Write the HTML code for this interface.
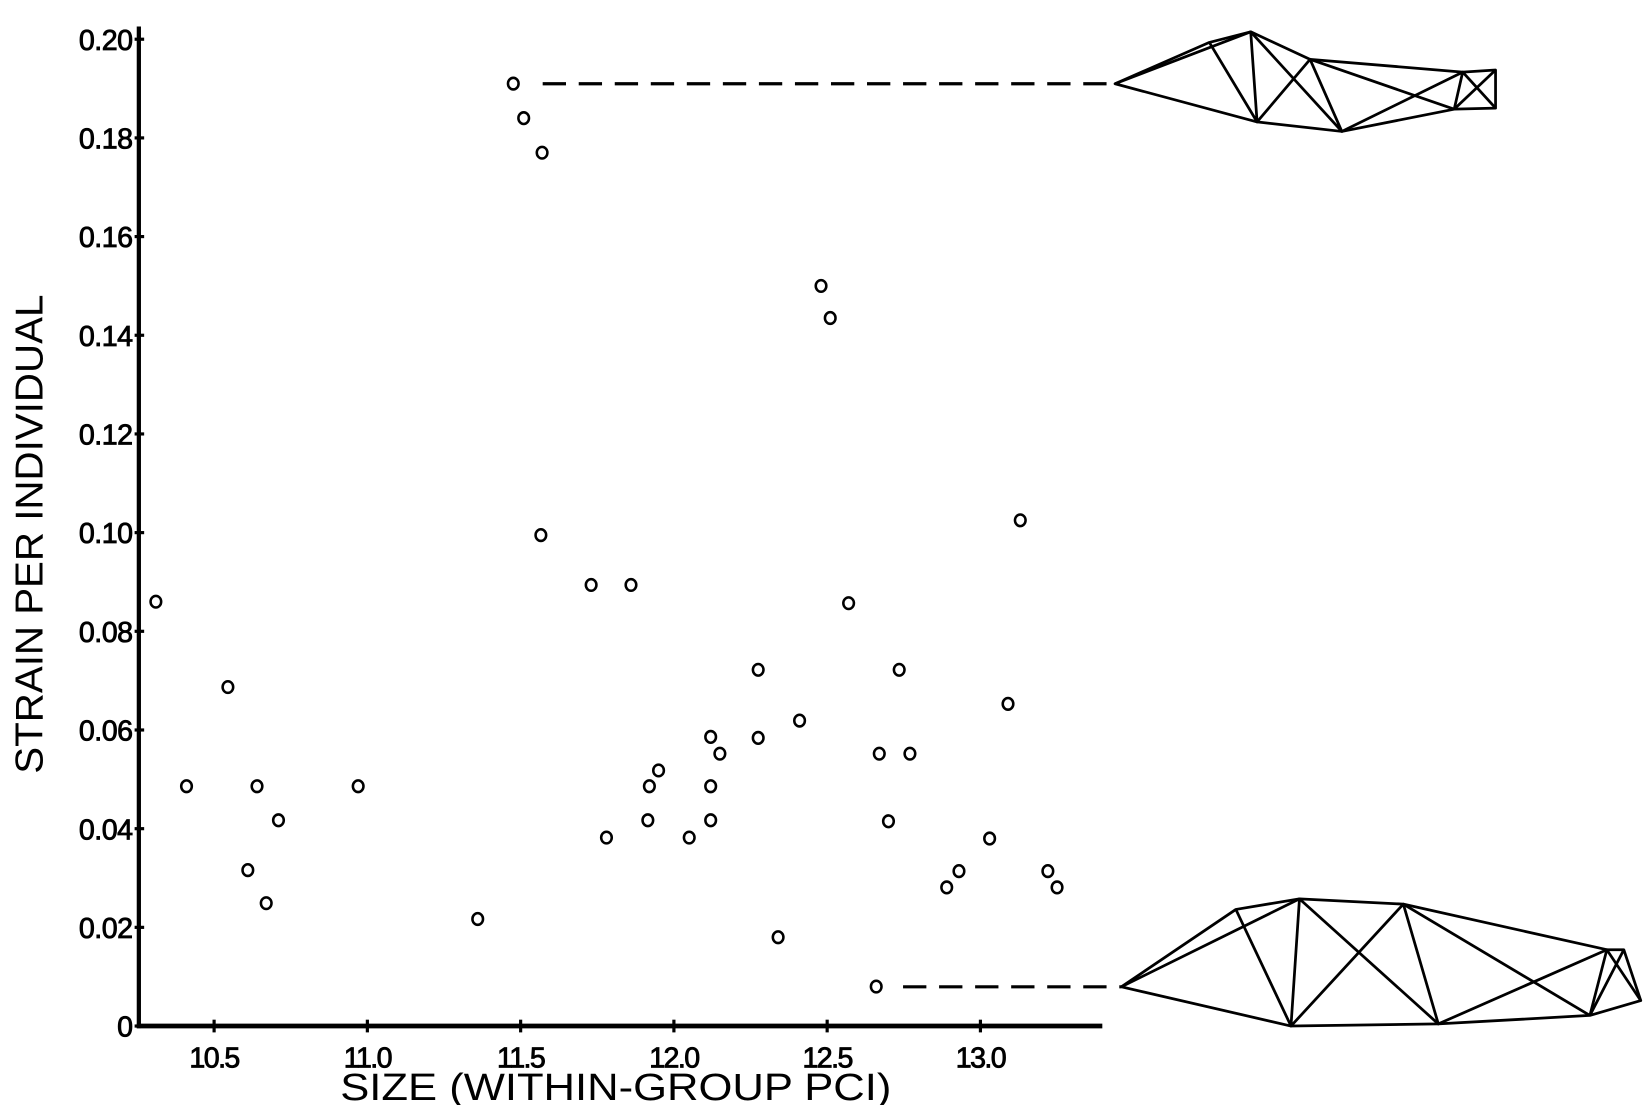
<!DOCTYPE html>
<html><head><meta charset="utf-8"><style>
html,body{margin:0;padding:0;background:#fff;}
svg{display:block;}
text{font-family:"Liberation Sans",sans-serif;fill:#000;}
</style></head><body>
<svg id="chart" width="1645" height="1105" viewBox="0 0 1552 1042.5" preserveAspectRatio="none" xmlns="http://www.w3.org/2000/svg">
<g id="axes"></g>
<g id="points"></g>
<g id="fish-top" fill="none" stroke="#000" stroke-width="2.6" stroke-linejoin="round">
  <line x1="512" y1="79" x2="1052" y2="79" stroke-width="3" stroke-dasharray="22,12"/>
  <polygon points="1052,79 1141,40 1180,30 1236,56 1380,68 1411,66 1411,102 1372,103 1266,124 1186,115"/>
  <polyline points="1052,79 1180,30"/>
  <polyline points="1141,40 1186,115 1180,30"/>
  <polyline points="1180,30 1266,124 1236,56 1186,115"/>
  <polyline points="1236,56 1372,103"/>
  <polyline points="1266,124 1380,68 1372,103"/>
  <polyline points="1380,68 1411,102"/>
  <polyline points="1411,66 1372,103"/>
</g>
<g id="fish-bottom" fill="none" stroke="#000" stroke-width="2.6" stroke-linejoin="round">
  <line x1="852" y1="931" x2="1058" y2="931" stroke-width="3" stroke-dasharray="22,12"/>
  <polygon points="1058,931 1166,858 1226,848 1324,853 1516,896 1532,896 1548,944 1500,958 1357,966 1218,968"/>
  <polyline points="1058,931 1226,848"/>
  <polyline points="1166,858 1218,968 1226,848 1357,966 1324,853 1218,968"/>
  <polyline points="1324,853 1500,958"/>
  <polyline points="1357,966 1516,896 1500,958"/>
  <polyline points="1516,896 1548,944"/>
  <polyline points="1532,896 1500,958"/>
</g>
</svg>
<script>
const xTicks = [10.5, 11.0, 11.5, 12.0, 12.5, 13.0];
const xTickLabels = ["10.5", "11.0", "11.5", "12.0", "12.5", "13.0"];
const yTicks = [0, 0.02, 0.04, 0.06, 0.08, 0.10, 0.12, 0.14, 0.16, 0.18, 0.20];
const yTickLabels = ["0", "0.02", "0.04", "0.06", "0.08", "0.10", "0.12", "0.14", "0.16", "0.18", "0.20"];
const sizeValues = [10.31,10.41,10.545,10.64,10.61,10.71,10.67,10.97,11.36,11.476,11.51,11.57,11.566,11.73,11.86,11.78,11.92,11.95,11.915,12.05,12.12,12.12,12.12,12.15,12.275,12.275,12.34,12.41,12.48,12.51,12.57,12.67,12.66,12.70,12.735,12.77,12.89,12.93,13.03,13.09,13.13,13.22,13.25];
const strainValues = [0.086,0.0486,0.0687,0.0486,0.0316,0.0417,0.0249,0.0486,0.0217,0.191,0.184,0.177,0.0995,0.0894,0.0894,0.0382,0.0486,0.0518,0.0417,0.0382,0.0586,0.0486,0.0417,0.0552,0.0722,0.0584,0.018,0.0619,0.150,0.1435,0.0857,0.0552,0.008,0.0415,0.0722,0.0552,0.0281,0.0314,0.038,0.0653,0.1025,0.0314,0.0281];

const NS = "http://www.w3.org/2000/svg";
function xScale(v){ return 202 + (v - 10.5) * 289.2; }
function yScale(v){ return 968 - v * 4655; }
function mk(tag, attrs, parent){ const e = document.createElementNS(NS, tag); for (const k in attrs) e.setAttribute(k, attrs[k]); parent.appendChild(e); return e; }

const axes = document.getElementById('axes');
const yAxis = mk('line', {x1:131, y1:yScale(0.2)-12, x2:131, y2:970, stroke:'#000', 'stroke-width':4}, axes);


const xAxis = mk('line', {x1:129, y1:968, x2:1040, y2:968, stroke:'#000', 'stroke-width':4.5}, axes);



yTicks.forEach((v, i) => {
  const y = yScale(v);
  const t = mk('line', {x1:127, y1:y, x2:136, y2:y, stroke:'#000', 'stroke-width':3}, axes);
  
  
  const lab = mk('text', {x:125, y:y+10, 'text-anchor':'end', 'font-size':27, 'letter-spacing':'-0.5', stroke:'#000', 'stroke-width':0.8}, axes);
  lab.textContent = yTickLabels[i];
  
  
});
xTicks.forEach((v, i) => {
  const x = xScale(v);
  const t = mk('line', {x1:x, y1:962, x2:x, y2:974, stroke:'#000', 'stroke-width':3}, axes);
  
  
  const lab = mk('text', {x:x, y:1007, 'text-anchor':'middle', 'font-size':27, 'letter-spacing':'-1.5', stroke:'#000', 'stroke-width':0.8}, axes);
  lab.textContent = xTickLabels[i];
  
  
});
const xt = mk('text', {x:581, y:1038, 'text-anchor':'middle', 'font-size':36, textLength:520, lengthAdjust:'spacingAndGlyphs'}, axes);
xt.textContent = 'SIZE (WITHIN-GROUP PCI)';


const yt = mk('text', {x:0, y:0, 'text-anchor':'middle', 'font-size':37, textLength:452, lengthAdjust:'spacingAndGlyphs', transform:'translate(40,504) rotate(-90)'}, axes);
yt.textContent = 'STRAIN PER INDIVIDUAL';



const pts = document.getElementById('points');
sizeValues.forEach((sv, i) => {
  const c = mk('ellipse', {cx:xScale(sv), cy:yScale(strainValues[i]), rx:5, ry:5.5, fill:'none', stroke:'#000', 'stroke-width':2.4}, pts);
  
  
});
</script>
</body></html>
